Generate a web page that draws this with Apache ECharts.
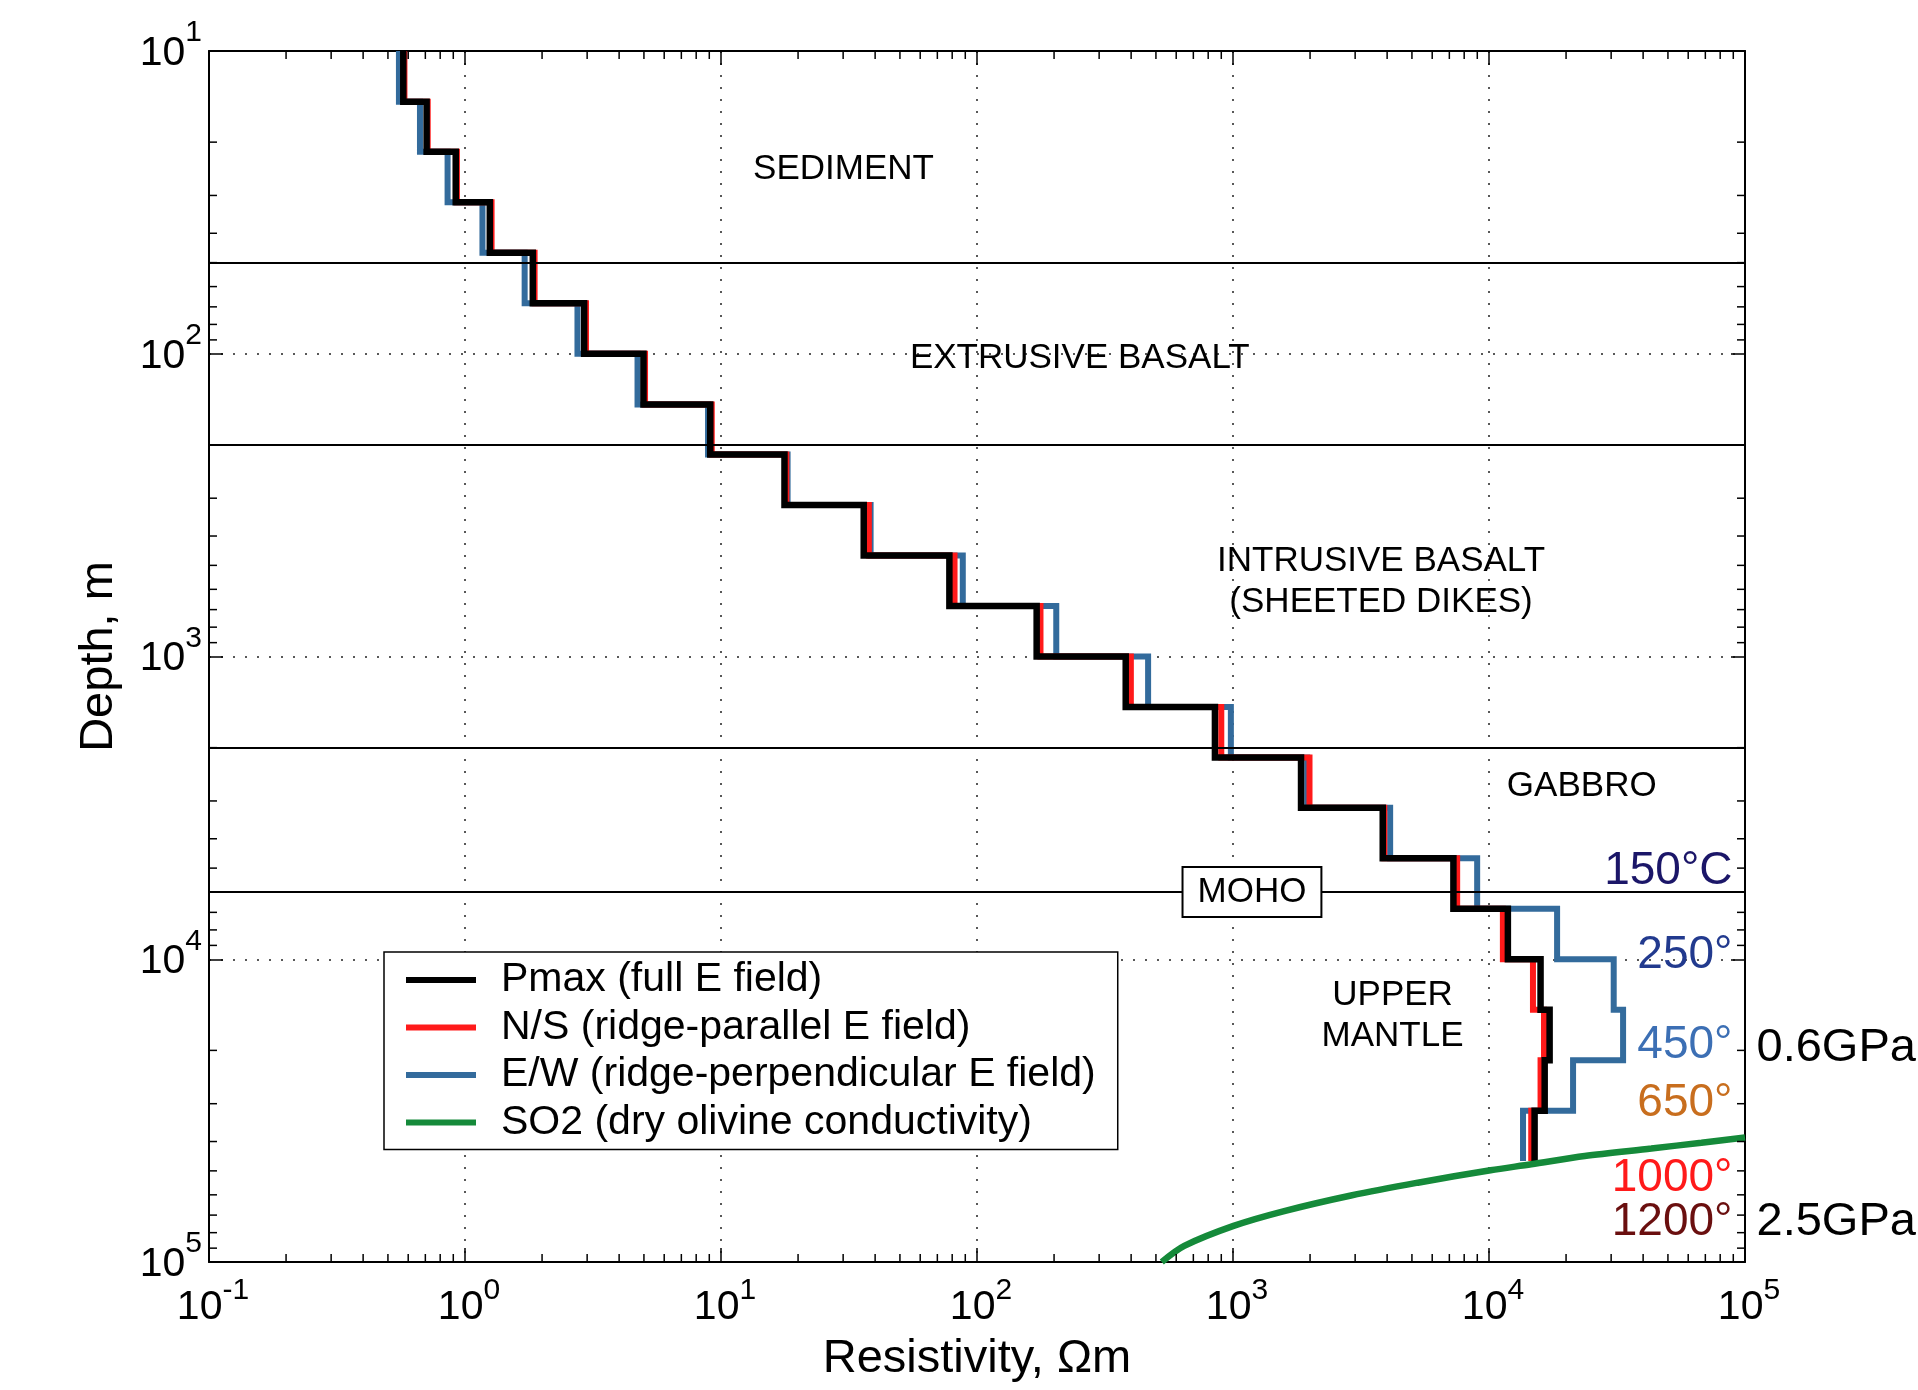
<!DOCTYPE html>
<html>
<head>
<meta charset="utf-8">
<title>Resistivity vs depth</title>
<script src="https://cdn.jsdelivr.net/npm/echarts@6/dist/echarts.min.js"></script>
<style>
html, body { margin: 0; padding: 0; background: #fff; }
#main { width: 1918px; height: 1390px; }
</style>
</head>
<body>
<div id="main"></div>
<script>
// model cell boundaries, m
var depthNodes = [10, 14.7, 21.5, 31.6, 46.4, 68.1, 100, 147, 215, 316, 464, 681,
    1000, 1468, 2154, 3162, 4642, 6813, 10000, 14678, 21544, 31623, 46416];

// resistivity of each cell, ohm-m
var rhoPmax = [0.574, 0.708, 0.92, 1.25, 1.84, 2.92, 4.98, 9.08, 17.7, 36.1, 78, 171,
    381, 850, 1844, 3845, 7260, 11850, 15900, 17250, 16500, 15070];
var rhoNS = [0.58, 0.715, 0.93, 1.27, 1.87, 2.97, 5.05, 9.2, 18.0, 37.8, 81.7, 177,
    399, 900, 1990, 3900, 7510, 11330, 14850, 16400, 15900, 14620];
var rhoEW = [0.552, 0.667, 0.855, 1.17, 1.71, 2.75, 4.72, 8.9, 18.2, 38.4, 88, 204,
    466, 981, 1950, 4110, 8990, 18450, 30700, 33400, 21300, 13580];

// dry olivine (SO2) curve
var so2Rho   = [527, 645, 1005, 1585, 2891, 5270, 10140, 14620, 23650, 43050, 67600, 100000];
var so2Depth = [100000, 88500, 76000, 67900, 60300, 54700, 49770, 47550, 44640, 42170, 40360, 38800];

// layer boundaries and names
var boundaryDepths = [50, 200, 2000, 6000];
var layerNames = ['SEDIMENT', 'EXTRUSIVE BASALT', 'INTRUSIVE BASALT\n(SHEETED DIKES)', 'GABBRO', 'UPPER\nMANTLE'];
var layerRho   = [30.1, 252, 3787, 23030, 4200];
var layerDepth = [24.6, 103.5, 567, 2690, 15400];
var mohoRho = 1186, mohoDepth = 6000;

// temperature / pressure annotations
var tempNames  = ['150°C', '250°', '450°', '650°', '1000°', '1200°'];
var tempDepth  = [5110, 9680, 19280, 29870, 52980, 74000];
var tempColors = ['#1b1668', '#223a8e', '#3c6fb4', '#c86e1e', '#ff1a1a', '#6a0f0f'];
var pressNames = ['0.6GPa', '2.5GPa'];
var pressDepth = [19600, 74000];

var xTicks = [0.1, 1, 10, 100, 1000, 10000, 100000];
var xTickExp = ['-1', '0', '1', '2', '3', '4', '5'];
var yTicks = [10, 100, 1000, 10000, 100000];
var yTickExp = ['1', '2', '3', '4', '5'];

var FONT = 'Liberation Sans, Arial, Helvetica, sans-serif';

function stepPath(rho) {
    var pts = [];
    for (var i = 0; i < rho.length; i++) {
        pts.push([rho[i], depthNodes[i]]);
        pts.push([rho[i], depthNodes[i + 1]]);
    }
    return pts;
}

function expOf(v, ticks, exps) {
    for (var i = 0; i < ticks.length; i++) {
        if (Math.abs(Math.log10(v) - Math.log10(ticks[i])) < 1e-6) return exps[i];
    }
    return '';
}

// minor tick positions 2..9 per decade
function minorVals(lo, hi) {
    var out = [];
    for (var e = lo; e < hi; e++)
        for (var m = 2; m <= 9; m++) out.push(m * Math.pow(10, e));
    return out;
}

var myChart = echarts.init(document.getElementById('main'));

var tickLine = { color: '#000', width: 1.5 };
var hidden = { color: 'rgba(0,0,0,0)', opacity: 1 };

var option = {
    animation: false,
    backgroundColor: '#fff',
    textStyle: { fontFamily: FONT },
    grid: { left: 209, right: 173, top: 51, bottom: 128, containLabel: false },
    legend: {
        orient: 'vertical',
        left: 384,
        top: 952,
        padding: [6, 22, 5, 22],
        backgroundColor: '#fff',
        borderColor: '#000',
        borderWidth: 1.5,
        borderRadius: 0,
        icon: 'rect',
        itemWidth: 70,
        itemHeight: 6,
        itemGap: 3.5,
        selectedMode: false,
        textStyle: { fontFamily: FONT, fontSize: 41, lineHeight: 44, color: '#000', padding: [0, 0, 0, 20] },
        data: ['Pmax (full E field)', 'N/S (ridge-parallel E field)',
               'E/W (ridge-perpendicular E field)', 'SO2 (dry olivine conductivity)']
    },
    xAxis: [{
        type: 'log', logBase: 10, min: 0.1, max: 100000,
        position: 'bottom',
        name: 'Resistivity, Ωm', nameLocation: 'middle', nameGap: 74,
        nameTextStyle: { fontFamily: FONT, fontSize: 47, color: '#000' },
        axisLine: { lineStyle: { color: '#000', width: 2 } },
        axisTick: { inside: true, length: 14, lineStyle: tickLine },
        axisLabel: {
            margin: 14, color: '#000', padding: [0, 0, 0, 8],
            formatter: function (v) { return '{b|10}{s|' + expOf(v, xTicks, xTickExp) + '}'; },
            rich: {
                b: { fontFamily: FONT, fontSize: 41, lineHeight: 52, verticalAlign: 'bottom', color: '#000' },
                s: { fontFamily: FONT, fontSize: 30, verticalAlign: 'top', color: '#000' }
            }
        },
        splitLine: { show: true, lineStyle: { color: '#222', width: 1.5, type: [2, 10] } }
    }, {
        type: 'log', logBase: 10, min: 0.1, max: 100000,
        position: 'top',
        axisLine: { lineStyle: { color: '#000', width: 2 } },
        axisTick: { inside: true, length: 14, lineStyle: tickLine },
        axisLabel: { show: false },
        splitLine: { show: false }
    }],
    yAxis: [{
        type: 'log', logBase: 10, min: 10, max: 100000, inverse: true,
        position: 'left',
        name: 'Depth, m', nameLocation: 'middle', nameGap: 86, nameRotate: 90,
        nameTextStyle: { fontFamily: FONT, fontSize: 47, color: '#000' },
        axisLine: { lineStyle: { color: '#000', width: 2 } },
        axisTick: { inside: true, length: 14, lineStyle: tickLine },
        axisLabel: {
            margin: 7, color: '#000', padding: [0, 0, 10, 0],
            formatter: function (v) { return '{b|10}{s|' + expOf(v, yTicks, yTickExp) + '}'; },
            rich: {
                b: { fontFamily: FONT, fontSize: 41, lineHeight: 56, verticalAlign: 'bottom', color: '#000' },
                s: { fontFamily: FONT, fontSize: 30, verticalAlign: 'top', color: '#000' }
            }
        },
        splitLine: { show: true, lineStyle: { color: '#222', width: 1.5, type: [2, 10] } }
    }, {
        type: 'log', logBase: 10, min: 10, max: 100000, inverse: true,
        position: 'right',
        axisLine: { lineStyle: { color: '#000', width: 2 } },
        axisTick: { inside: true, length: 14, lineStyle: tickLine },
        axisLabel: { show: false },
        splitLine: { show: false }
    }],
    series: [
        {
            name: 'E/W (ridge-perpendicular E field)', type: 'line', z: 2,
            data: stepPath(rhoEW), showSymbol: false, symbol: 'none',
            itemStyle: { color: '#336b9c' },
            lineStyle: { color: '#336b9c', width: 6, join: 'miter', cap: 'butt' },
            markLine: {
                silent: true, symbol: 'none', label: { show: false },
                lineStyle: { color: '#000', width: 2, type: 'solid', opacity: 1 },
                data: boundaryDepths.map(function (d) { return { yAxis: d }; })
            }
        },
        {
            name: 'N/S (ridge-parallel E field)', type: 'line', z: 3,
            data: stepPath(rhoNS), showSymbol: false, symbol: 'none',
            itemStyle: { color: '#ff1a1a' },
            lineStyle: { color: '#ff1a1a', width: 6, join: 'miter', cap: 'butt' }
        },
        {
            name: 'Pmax (full E field)', type: 'line', z: 4,
            data: stepPath(rhoPmax), showSymbol: false, symbol: 'none',
            itemStyle: { color: '#000' },
            lineStyle: { color: '#000', width: 6.5, join: 'miter', cap: 'butt' }
        },
        {
            name: 'SO2 (dry olivine conductivity)', type: 'line', z: 5,
            data: so2Rho.map(function (r, i) { return [r, so2Depth[i]]; }),
            showSymbol: false, symbol: 'none', smooth: 0.3,
            itemStyle: { color: '#158a3a' },
            lineStyle: { color: '#158a3a', width: 6.5 }
        },
        {
            // minor ticks on bottom/top
            type: 'custom', silent: true, z: 6,
            data: minorVals(-1, 5).map(function (v) { return [v, 10]; }),
            renderItem: function (params, api) {
                var v = api.value(0);
                var b = api.coord([v, 100000]), t = api.coord([v, 10]);
                return { type: 'group', children: [
                    { type: 'line', shape: { x1: b[0], y1: b[1], x2: b[0], y2: b[1] - 8 }, style: { stroke: '#000', lineWidth: 1.5 } },
                    { type: 'line', shape: { x1: t[0], y1: t[1], x2: t[0], y2: t[1] + 8 }, style: { stroke: '#000', lineWidth: 1.5 } }
                ] };
            }
        },
        {
            // minor ticks on left/right
            type: 'custom', silent: true, z: 6,
            data: minorVals(1, 5).map(function (v) { return [0.1, v]; }),
            renderItem: function (params, api) {
                var v = api.value(1);
                var l = api.coord([0.1, v]), r = api.coord([100000, v]);
                return { type: 'group', children: [
                    { type: 'line', shape: { x1: l[0], y1: l[1], x2: l[0] + 8, y2: l[1] }, style: { stroke: '#000', lineWidth: 1.5 } },
                    { type: 'line', shape: { x1: r[0], y1: r[1], x2: r[0] - 8, y2: r[1] }, style: { stroke: '#000', lineWidth: 1.5 } }
                ] };
            }
        },
        {
            // layer names
            type: 'scatter', silent: true, z: 7, symbolSize: 1,
            itemStyle: hidden,
            data: layerNames.map(function (n, i) { return { name: n, value: [layerRho[i], layerDepth[i]] }; }),
            label: { show: true, position: 'inside', formatter: '{b}', fontFamily: FONT, fontSize: 35, lineHeight: 41, color: '#000', align: 'center' }
        },
        {
            // MOHO box
            type: 'scatter', silent: true, z: 8, symbolSize: 1,
            itemStyle: hidden,
            data: [{ name: 'MOHO', value: [mohoRho, mohoDepth] }],
            label: {
                show: true, position: 'inside', formatter: '{b}', fontFamily: FONT, fontSize: 35, lineHeight: 38,
                color: '#000', backgroundColor: '#fff', borderColor: '#000', borderWidth: 2, padding: [6, 14, 4, 14]
            }
        },
        {
            // temperatures
            type: 'scatter', silent: true, z: 7, symbolSize: 1,
            itemStyle: hidden,
            data: tempNames.map(function (n, i) {
                return { name: n, value: [100000, tempDepth[i]], label: { color: tempColors[i] } };
            }),
            label: { show: true, position: 'left', distance: 12, formatter: '{b}', fontFamily: FONT, fontSize: 46 }
        },
        {
            // pressures
            type: 'scatter', silent: true, z: 7, symbolSize: 1,
            itemStyle: hidden,
            data: pressNames.map(function (n, i) { return { name: n, value: [100000, pressDepth[i]] }; }),
            label: { show: true, position: 'right', distance: 11, formatter: '{b}', fontFamily: FONT, fontSize: 47, color: '#000' }
        }
    ]
};

myChart.setOption(option);
</script>
</body>
</html>
